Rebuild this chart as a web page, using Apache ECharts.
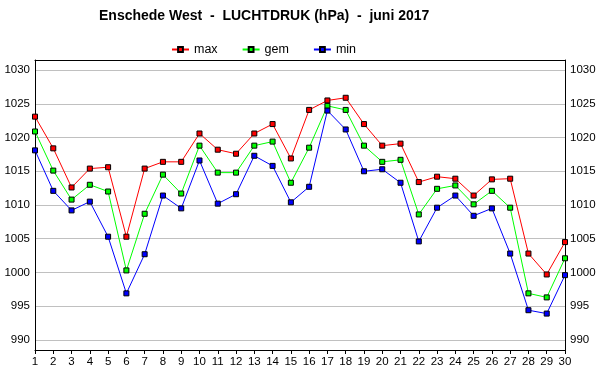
<!DOCTYPE html>
<html><head><meta charset="utf-8">
<script src="https://cdn.jsdelivr.net/npm/echarts@6/dist/echarts.min.js"></script>
<style>html,body{margin:0;padding:0;background:#fff}#c{width:600px;height:390px}</style>
</head><body><div id="c"></div>
<script>
var days = [];
for (var d = 1; d <= 30; d++) days.push(String(d));
var maxVals = [1023.1,1018.4,1012.6,1015.4,1015.6,1005.3,1015.4,1016.4,1016.4,1020.6,1018.2,1017.6,1020.6,1022.0,1016.9,1024.1,1025.5,1025.9,1022.0,1018.8,1019.1,1013.4,1014.2,1013.9,1011.4,1013.8,1013.9,1002.8,999.7,1004.5];
var gemVals = [1020.9,1015.1,1010.8,1013.0,1012.0,1000.3,1008.7,1014.5,1011.7,1018.8,1014.8,1014.8,1018.8,1019.4,1013.3,1018.5,1024.7,1024.1,1018.8,1016.4,1016.7,1008.6,1012.4,1012.9,1010.1,1012.1,1009.6,996.9,996.3,1002.1];
var minVals = [1018.1,1012.1,1009.2,1010.5,1005.3,996.9,1002.7,1011.4,1009.5,1016.6,1010.2,1011.6,1017.3,1015.8,1010.4,1012.7,1024.0,1021.2,1015.0,1015.3,1013.3,1004.6,1009.6,1011.4,1008.4,1009.5,1002.8,994.4,993.9,999.6];
var yTicks = [990,995,1000,1005,1010,1015,1020,1025,1030];
var titleText = 'Enschede West  -  LUCHTDRUK (hPa)  -  juni 2017';
var seriesNames = ['max','gem','min'];
var seriesColors = ['#ff0000','#00ff00','#0000ff'];

var FONT = '"Liberation Sans", Arial, sans-serif';
function yAxisDef(pos) {
  return {
    type: 'value', position: pos, min: 988.5, max: 1031.5,
    axisLine: {show: true, lineStyle: {color: '#000', width: 1}},
    axisTick: {show: false, customValues: yTicks},
    axisLabel: {customValues: yTicks, color: '#000', fontSize: 11.5, fontFamily: FONT, margin: 5,
      formatter: function (v) { return String(Math.round(v)); }},
    splitLine: {show: pos === 'left', lineStyle: {color: '#c0c0c0', width: 1}}
  };
}
var chart = echarts.init(document.getElementById('c'), null, {renderer: 'canvas'});
var dataSets = [maxVals, gemVals, minVals];
chart.setOption({
  animation: false,
  backgroundColor: '#fff',
  title: {text: titleText, left: 94, top: 4, textStyle: {fontSize: 14, fontWeight: 'bold', fontFamily: FONT, color: '#000'}},
  legend: {
    data: seriesNames, left: 166, top: 38, itemWidth: 17, itemHeight: 6, itemGap: 24,
    textStyle: {fontSize: 12.5, fontFamily: FONT, color: '#000'}
  },
  grid: {left: 35, right: 35, top: 60, bottom: 40, containLabel: false},
  xAxis: [{
    type: 'category', data: days, boundaryGap: false, position: 'bottom',
    axisLine: {lineStyle: {color: '#000', width: 1}},
    axisTick: {show: true, length: 4, inside: false, lineStyle: {color: '#000'}},
    axisLabel: {color: '#000', fontSize: 11.5, fontFamily: FONT, margin: 6, interval: 0},
    splitLine: {show: false}
  }, {
    type: 'category', data: days, boundaryGap: false, position: 'top',
    axisLine: {lineStyle: {color: '#000', width: 1}},
    axisTick: {show: false}, axisLabel: {show: false}, splitLine: {show: false}
  }],
  yAxis: [yAxisDef('left'), yAxisDef('right')],
  series: seriesNames.map(function (n, i) {
    return {
      name: n, type: 'line', data: dataSets[i], symbol: 'rect', symbolSize: 5,
      showAllSymbol: true,
      lineStyle: {color: seriesColors[i], width: 1},
      itemStyle: {color: seriesColors[i], borderColor: '#000', borderWidth: 1}
    };
  })
});
</script></body></html>
